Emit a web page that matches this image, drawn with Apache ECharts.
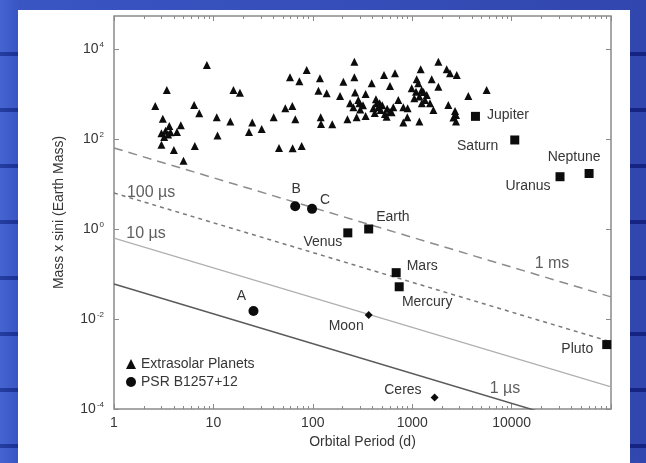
<!DOCTYPE html>
<html>
<head>
<meta charset="utf-8">
<script src="https://cdn.jsdelivr.net/npm/echarts@6/dist/echarts.min.js"></script>
<style>
  html, body { margin: 0; padding: 0; width: 646px; height: 463px; overflow: hidden; }
  body {
    background-color: #2238a8;
    background-image:
      repeating-linear-gradient(180deg, rgba(120,150,240,0.25) 0 52px, rgba(10,20,90,0.35) 52px 56px),
      linear-gradient(90deg, #3454c8 0, #2440b4 18px, #1a2c98 100%);
  }
  #chart { position: absolute; left: 18px; top: 10px; width: 612px; height: 453px; background: #fff; }
</style>
</head>
<body>
<div id="chart"></div>
<script>
// Extrasolar planets: orbital period (days) and minimum mass (Earth masses)
const exoPeriod = [
  2.6, 3.4, 3.1, 3.6, 3.0, 3.3, 3.7, 4.3, 4.7, 3.0, 4.0, 5.0, 6.4, 7.2, 6.5, 8.6,
  10.8, 11.0, 14.8, 15.9, 18.5, 22.8, 24.6, 30.6, 40.4, 45.7, 52.9, 62.2, 66.7, 62.7,
  77.3, 59, 73.3, 86.8, 118, 114, 138, 120, 121, 157, 188, 203, 262, 262, 223, 266,
  237, 256, 294, 276, 340, 340, 391, 432, 456, 482, 532, 520, 598, 671, 646, 725,
  814, 814, 893, 988, 1110, 1217, 1246, 1180, 1345, 1571, 1510, 1633, 1833, 1833,
  2223, 2399, 2805, 2307, 1180, 2760, 2760, 3670, 5610, 406, 440, 287, 553, 598,
  1152, 1092, 300, 320, 420, 470, 500, 560, 620, 1300, 1400, 1250, 2600, 2700,
  900, 1050, 3.2, 3.5
];
const exoMass = [
  540, 1230, 283, 194, 134, 153, 141, 143, 201, 74, 57, 33, 570, 372, 70, 4410,
  303, 119, 243, 1230, 1070, 143, 231, 167, 303, 63, 480, 540, 274, 62,
  70, 2340, 1910, 3420, 2230, 1185, 1036, 303, 215, 212, 903, 1880, 5230, 2340, 274, 1072,
  621, 506, 621, 303, 1000, 324, 1727, 761, 506, 441, 359, 2640, 1506, 2880, 506, 736,
  506, 231, 303, 1337, 2120, 3530, 1228, 873, 736, 2120, 621, 441, 5230, 1455,
  3530, 2880, 2640, 570, 243, 341, 243, 903, 1228, 480, 621, 736, 313, 405,
  1727, 1127, 450, 560, 380, 620, 560, 470, 390, 1100, 950, 620, 300, 420,
  480, 800, 110, 125
];

// Planets of PSR B1257+12
const pulsarNames = ['A', 'B', 'C'];
const pulsarPeriod = [25.3, 66.5, 98.2];
const pulsarMass = [0.015, 3.2, 2.8];

// Solar-system bodies (squares for planets, diamonds for moon / dwarf body)
const solarNames = ['Mercury', 'Venus', 'Earth', 'Moon', 'Mars', 'Ceres', 'Jupiter', 'Saturn', 'Uranus', 'Neptune', 'Pluto'];
const solarPeriod = [740, 225, 365, 365, 690, 1680, 4330, 10760, 30700, 60200, 90600];
const solarMass = [0.052, 0.82, 1.0, 0.0123, 0.107, 1.8e-4, 318, 95, 14.5, 17.1, 0.0027];
const solarKind = ['planet', 'planet', 'planet', 'minor', 'planet', 'minor', 'planet', 'planet', 'planet', 'planet', 'planet'];

// Timing-sensitivity lines: mass at P = 1 d and at P = 1e5 d
const sensNames = ['1 ms', '100 µs', '10 µs', '1 µs'];
const sensAtStart = [63, 6.3, 0.63, 0.060];
const sensAtEnd = [0.031, 0.0031, 3.1e-4, 2.9e-5];
// Where each sensitivity label sits (period, mass)
const sensLabelPeriod = [25500, 2.36, 2.1, 8590];
const sensLabelMass = [0.167, 6.3, 0.77, 2.8e-4];

// Axis ticks
const xMajorTicks = [1, 10, 100, 1000, 10000, 100000];
const xLabelTicks = [1, 10, 100, 1000, 10000];
const xMinorTicks = [];
for (let d = 1; d < 100000; d *= 10) {
  for (let k = 2; k <= 9; k++) xMinorTicks.push(d * k);
}
const yLabelTicks = [1e-4, 1e-2, 1, 100, 1e4];

const textColor = '#363636';
const frameColor = '#8a8a8a';
const markColor = '#0c0c0c';
const font = '"Liberation Sans", Arial, sans-serif';

const labelPlacement = {
  Jupiter: { position: 'right', distance: 7, offset: [0, -1] },
  Saturn:  { position: 'left', distance: 12, offset: [0, 6] },
  Uranus:  { position: 'left', distance: 5, offset: [0, 9] },
  Neptune: { position: 'top', distance: 5, offset: [-15, 0] },
  Earth:   { position: 'right', distance: 3, offset: [0, -12] },
  Venus:   { position: 'left', distance: 1, offset: [0, 9] },
  Mars:    { position: 'right', distance: 6, offset: [0, -7] },
  Mercury: { position: 'bottom', distance: 4, offset: [28, 0] },
  Moon:    { position: 'left', distance: 1, offset: [0, 11] },
  Ceres:   { position: 'left', distance: 9, offset: [0, -7] },
  Pluto:   { position: 'left', distance: 9, offset: [0, 5] },
  A:       { position: 'top', distance: 3, offset: [-12, 0] },
  B:       { position: 'top', distance: 5, offset: [1, 0] },
  C:       { position: 'right', distance: 3, offset: [0, -9] }
};

const nameLabel = (name) => Object.assign({
  show: true, formatter: name, color: textColor, fontSize: 14, fontFamily: font
}, labelPlacement[name]);

const X_MIN = 1, X_MAX = 100000, Y_MIN = 1e-4, Y_MAX = 54000;

function xAxisDef(position, ticks, len, labels) {
  return {
    type: 'log', gridIndex: 0, min: X_MIN, max: X_MAX, position: position,
    axisLine: { show: false },
    axisTick: { show: true, inside: true, length: len, customValues: ticks,
                lineStyle: { color: frameColor, width: 1 } },
    axisLabel: labels ? {
      show: true, customValues: xLabelTicks, margin: 7, color: textColor,
      fontSize: 14, fontFamily: font, formatter: (v) => String(Math.round(v))
    } : { show: false },
    splitLine: { show: false },
    minorTick: { show: false }
  };
}

function yAxisDef(position, labels) {
  return {
    type: 'log', gridIndex: 0, min: Y_MIN, max: Y_MAX, position: position,
    axisLine: { show: false },
    axisTick: { show: true, inside: true, length: 5, customValues: yLabelTicks,
                lineStyle: { color: frameColor, width: 1 } },
    axisLabel: labels ? {
      show: true, customValues: yLabelTicks, margin: 10,
      formatter: (v) => '{b|10}{s|' + Math.round(Math.log10(v)) + '}',
      rich: {
        b: { fontSize: 14, color: textColor, fontFamily: font },
        s: { fontSize: 8, color: textColor, fontFamily: font, verticalAlign: 'top', padding: [0, 0, 8, 1] }
      }
    } : { show: false },
    splitLine: { show: false },
    name: labels ? 'Mass x sini (Earth Mass)' : '',
    nameLocation: 'middle', nameGap: 48,
    nameTextStyle: { color: textColor, fontSize: 14, fontFamily: font }
  };
}

const xAxes = [
  xAxisDef('bottom', xMajorTicks, 5, true),
  xAxisDef('bottom', xMinorTicks, 3, false),
  xAxisDef('top', xMajorTicks, 5, false),
  xAxisDef('top', xMinorTicks, 3, false)
];
xAxes[0].name = 'Orbital Period (d)';
xAxes[0].nameLocation = 'middle';
xAxes[0].nameGap = 26;
xAxes[0].nameTextStyle = { color: textColor, fontSize: 14, fontFamily: font };

const lineStyles = [
  { color: '#8c8c8c', width: 1.5, type: [9, 6] },
  { color: '#7a7a7a', width: 1.5, type: [4, 4] },
  { color: '#b0b0b0', width: 1.3, type: 'solid' },
  { color: '#5a5a5a', width: 1.5, type: 'solid' }
];

const sensSeries = sensNames.map((n, i) => ({
  name: n, type: 'line', xAxisIndex: 0, yAxisIndex: 0,
  data: [[X_MIN, sensAtStart[i]], [X_MAX, sensAtEnd[i]]],
  showSymbol: false, symbol: 'none', clip: true, silent: true, z: 1,
  lineStyle: lineStyles[i]
}));

const markStyle = { color: markColor, opacity: 1 };

const option = {
  animation: false,
  backgroundColor: '#ffffff',
  grid: { left: 96, top: 6, right: 19, bottom: 54, show: true,
          borderColor: frameColor, borderWidth: 1.5, backgroundColor: 'transparent' },
  xAxis: xAxes,
  yAxis: [yAxisDef('left', true), yAxisDef('right', false)],
  legend: {
    data: ['Extrasolar Planets', 'PSR B1257+12'],
    orient: 'vertical', left: 103, top: 342, itemWidth: 10, itemHeight: 10, itemGap: 4,
    selectedMode: false,
    itemStyle: { opacity: 1 },
    textStyle: { color: textColor, fontSize: 14, fontFamily: font }
  },
  series: sensSeries.concat([
    {
      name: 'sensitivity labels', type: 'scatter', symbolSize: 0, silent: true, z: 2,
      data: sensNames.map((n, i) => ({
        value: [sensLabelPeriod[i], sensLabelMass[i]],
        label: { show: true, position: 'inside', formatter: n, color: textColor, fontSize: 16, fontFamily: font }
      }))
    },
    {
      name: 'Extrasolar Planets', type: 'scatter', symbol: 'triangle', symbolSize: 8, z: 3,
      itemStyle: markStyle,
      data: exoPeriod.map((p, i) => [p, exoMass[i]])
    },
    {
      name: 'PSR B1257+12', type: 'scatter', symbol: 'circle', symbolSize: 10, z: 3,
      itemStyle: markStyle,
      data: pulsarNames.map((n, i) => ({ value: [pulsarPeriod[i], pulsarMass[i]], label: nameLabel(n) }))
    },
    {
      name: 'Solar System', type: 'scatter', z: 3,
      itemStyle: markStyle,
      data: solarNames.map((n, i) => ({
        value: [solarPeriod[i], solarMass[i]],
        symbol: solarKind[i] === 'planet' ? 'rect' : 'diamond',
        symbolSize: solarKind[i] === 'planet' ? 9 : 8,
        label: nameLabel(n)
      }))
    }
  ])
};

const chart = echarts.init(document.getElementById('chart'), null, { renderer: 'canvas' });
chart.setOption(option);
</script>
</body>
</html>
